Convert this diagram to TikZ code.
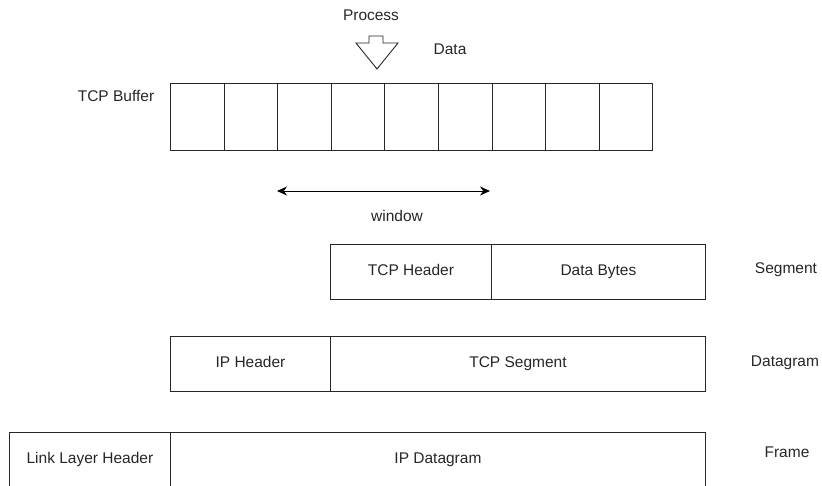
\documentclass[tikz,border=0pt]{standalone}
\usepackage{fontspec}
\setmainfont{Liberation Sans}
\usetikzlibrary{arrows.meta}

\begin{document}
\begin{tikzpicture}[x=1pt,y=-1pt,
  lbl/.style={font=\fontsize{15.5}{18}\selectfont, text=black!85, inner sep=0pt},
  box/.style={lbl, draw=black!85, line width=0.9pt, minimum height=55pt,
              text height=11.5pt, text depth=3.5pt, anchor=north west},
  cell/.style={draw=black!85, line width=0.9pt, minimum width=53.6pt,
               minimum height=67pt, inner sep=0pt, anchor=north west},
  dbl/.style={line width=1pt,
              {Stealth[length=10pt,width=9pt]}-{Stealth[length=10pt,width=9pt]}}]
\useasboundingbox (0,0) rectangle (822,485);

% incoming data from the process
\node[lbl] (proc) at (371,15) {Process};
\draw[line width=0.9pt, black!85, line join=miter]
  (369,36) -- (383,36) -- (383,43) -- (398,43) -- (377,69) -- (356,43)
  -- (369,43) -- cycle;
\node[lbl] (data) at (450,49) {Data};

% send buffer
\node[lbl] (buflbl) at (116,96) {TCP Buffer};
\foreach \i in {0,...,8}
  \node[cell] (c\i) at ({170+\i*53.6},83) {};

% sliding window
\coordinate (wl) at (277,191);
\coordinate (wr) at (490,191);
\draw[dbl] (wl) -- (wr);
\node[lbl] (win) at (397,216) {window};

% TCP segment
\node[box, minimum width=161pt] (tcph) at (330,244) {TCP Header};
\node[box, minimum width=214pt] (bytes) at (491,244) {Data Bytes};
\node[lbl] (seg) at (786,270) {Segment};

% IP datagram
\node[box, minimum width=160pt] (iph) at (170,336) {IP Header};
\node[box, minimum width=375pt] (tcps) at (330,336) {TCP Segment};
\node[lbl] (dgram) at (785,363) {Datagram};

% link-layer frame
\node[box, minimum width=161pt] (llh) at (9,432) {Link Layer Header};
\node[box, minimum width=535pt] (ipd) at (170,432) {IP Datagram};
\node[lbl] (frame) at (787,452) {Frame};
\end{tikzpicture}
\end{document}
